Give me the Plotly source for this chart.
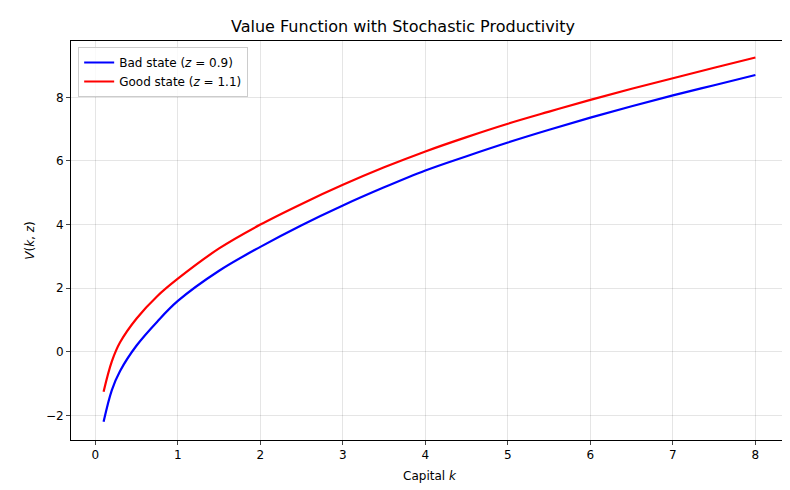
import plotly.graph_objects as go

# capital grid and value function readings
k = [0.1, 0.2, 0.3, 0.5, 0.75, 1, 1.5, 2, 2.5, 3, 3.5, 4, 4.5, 5, 5.5, 6, 6.5, 7, 7.5, 8]
v_bad = [-2.2, -1.2, -0.6, 0.2, 0.95, 1.6, 2.55, 3.3, 3.98, 4.6, 5.17, 5.7, 6.15, 6.58, 6.98, 7.36, 7.72, 8.06, 8.38, 8.7]
v_good = [-1.25, -0.3, 0.3, 1.05, 1.75, 2.3, 3.25, 4.0, 4.65, 5.25, 5.8, 6.3, 6.75, 7.17, 7.55, 7.92, 8.27, 8.6, 8.93, 9.25]

fig = go.Figure()
fig.add_trace(go.Scatter(x=k, y=v_bad, mode="lines",
                         line=dict(color="blue", width=2.2, shape="spline", smoothing=1.0),
                         name="Bad state (<i>z</i> = 0.9)"))
fig.add_trace(go.Scatter(x=k, y=v_good, mode="lines",
                         line=dict(color="red", width=2.2, shape="spline", smoothing=1.0),
                         name="Good state (<i>z</i> = 1.1)"))

axis = dict(showline=True, mirror=True, linecolor="black", linewidth=1, ticks="outside",
            ticklen=4, gridcolor="rgba(0,0,0,0.1)", zeroline=False, automargin=False,
            tickfont=dict(size=12, color="black"))
fig.update_layout(
    width=790, height=490, template="simple_white",
    font=dict(family="DejaVu Sans", color="black"),
    title=dict(text="Value Function with Stochastic Productivity", x=0.5, xanchor="center",
               y=0.963, yanchor="middle", font=dict(size=16)),
    margin=dict(l=63, r=10, t=33, b=58),
    xaxis=dict(axis, title=dict(text="Capital <i>k</i>", font=dict(size=12), standoff=10), range=[-0.295, 8.395],
               tickvals=list(range(9)), showgrid=True),
    yaxis=dict(axis, title=dict(text="<i>V</i>(<i>k</i>, <i>z</i>)", font=dict(size=12), standoff=8), range=[-2.77, 9.77],
               tickvals=[-2, 0, 2, 4, 6, 8], ticktext=["\u22122", "0", "2", "4", "6", "8"], showgrid=True),
    legend=dict(x=0.01, y=0.985, xanchor="left", yanchor="top", bordercolor="#ccc", borderwidth=1,
                bgcolor="rgba(255,255,255,0.8)", font=dict(size=12)),
)
fig.write_html("out.html")
